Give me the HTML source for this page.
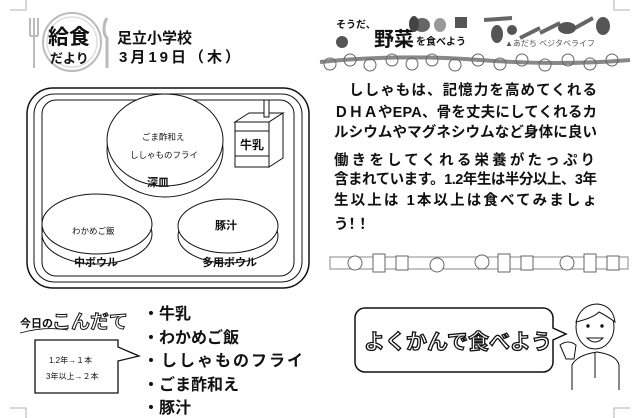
<!DOCTYPE html>
<html><head><meta charset="utf-8"><style>
html,body{margin:0;padding:0;background:#fff;}
svg{display:block;}
text{font-family:"Liberation Sans","Noto Sans CJK JP",sans-serif;fill:#111;}
</style></head><body>
<svg width="640" height="418" viewBox="0 0 640 418" xmlns="http://www.w3.org/2000/svg">
<path d="M10 10H26V0" fill="none" stroke="#999" stroke-width="0.8"/>
<path d="M630 10H614V0" fill="none" stroke="#999" stroke-width="0.8"/>
<path d="M10 408H26V418" fill="none" stroke="#999" stroke-width="0.8"/>
<path d="M630 408H614V418" fill="none" stroke="#999" stroke-width="0.8"/>

<circle cx="72" cy="42" r="29" fill="none" stroke="#bbb" stroke-width="2"/>
<circle cx="72" cy="42" r="25" fill="none" stroke="#ddd" stroke-width="1.5"/>
<path d="M30 18v18M34 18v18M38 18v18M30 36h8M34 36v32" stroke="#bbb" stroke-width="2" fill="none"/>
<path d="M107 18c-4 6-4 16 0 20v30" stroke="#bbb" stroke-width="3" fill="none"/>
<text x="48" y="44" font-size="21" font-weight="bold">給食</text>
<text x="50" y="63" font-size="13" font-weight="bold">だより</text>
<text x="117" y="43" font-size="15" font-weight="bold">足立小学校</text>
<text x="119" y="62" font-size="15" font-weight="bold" letter-spacing="3">3月19日（木）</text>

<rect x="27" y="88" width="282" height="200" rx="26" fill="none" stroke="#111" stroke-width="1.5"/>
<rect x="34" y="94" width="268" height="188" rx="20" fill="none" stroke="#111" stroke-width="1"/>
<rect x="42" y="100" width="252" height="176" rx="14" fill="none" stroke="#111" stroke-width="1"/>

<ellipse cx="165" cy="150" rx="58" ry="47" fill="#fff" stroke="#111" stroke-width="1"/>
<ellipse cx="165" cy="140" rx="58" ry="46" fill="#fff" stroke="#111" stroke-width="1"/>
<text x="142" y="140" font-size="8.5">ごま酢和え</text>
<text x="130" y="158" font-size="8.5">ししゃものフライ</text>
<text x="147" y="186" font-size="11" font-weight="bold">深皿</text>

<path d="M235 122l14-9h34l-14 9z" fill="#fff" stroke="#111"/>
<path d="M269 122l14-9v45l-14 9z" fill="#fff" stroke="#111"/>
<rect x="235" y="122" width="34" height="45" fill="#fff" stroke="#111"/>
<rect x="264" y="100" width="5" height="17" fill="#fff" stroke="#111"/>
<line x1="235" y1="131" x2="269" y2="131" stroke="#111"/>
<line x1="235" y1="156" x2="269" y2="156" stroke="#111"/>
<text x="240" y="149" font-size="12" font-weight="bold">牛乳</text>

<ellipse cx="97" cy="234" rx="55" ry="30" fill="#fff" stroke="#111"/>
<ellipse cx="97" cy="224" rx="55" ry="30" fill="#fff" stroke="#111"/>
<text x="72" y="234" font-size="8.5">わかめご飯</text>
<text x="74" y="266" font-size="11" font-weight="bold">中ボウル</text>

<ellipse cx="228" cy="236" rx="50" ry="27" fill="#fff" stroke="#111"/>
<ellipse cx="228" cy="226" rx="50" ry="27" fill="#fff" stroke="#111"/>
<text x="215" y="229" font-size="11" font-weight="bold">豚汁</text>
<text x="202" y="266" font-size="11" font-weight="bold">多用ボウル</text>

<text x="336" y="28" font-size="10" font-weight="bold">そうだ、</text>
<text x="374" y="46" font-size="20" font-weight="bold">野菜</text>
<text x="416" y="45" font-size="10" font-weight="bold">を食べよう</text>
<circle cx="342" cy="42" r="6" fill="#555"/>
<ellipse cx="422" cy="25" rx="8" ry="7" fill="#666"/>
<ellipse cx="440" cy="25" rx="6" ry="7" fill="#999"/>
<rect x="455" y="17" width="12" height="11" fill="#555"/>
<ellipse cx="414" cy="24" rx="5" ry="8" fill="#444"/>
<path d="M484 20l28-2M520 38l20-10M540 33l20-10M575 28l18-10" stroke="#666" stroke-width="4"/>
<ellipse cx="497" cy="34" rx="6" ry="9" fill="#555"/>
<circle cx="512" cy="30" r="5" fill="#555"/>
<ellipse cx="567" cy="28" rx="9" ry="6" fill="#555"/>
<ellipse cx="603" cy="26" rx="7" ry="9" fill="#555"/>
<text x="505" y="46" font-size="8" style="fill:#555">▲あだち ベジタベライフ</text>
<path d="M320 62 Q400 54 480 60 T630 60" stroke="#888" stroke-width="4" fill="none"/>
<g fill="none" stroke="#666" stroke-width="1">
<circle cx="330" cy="64" r="6"/><circle cx="350" cy="60" r="6"/><circle cx="370" cy="65" r="6"/><circle cx="392" cy="60" r="6"/><circle cx="412" cy="64" r="6"/><circle cx="432" cy="60" r="6"/><circle cx="455" cy="65" r="6"/><circle cx="478" cy="60" r="6"/><circle cx="500" cy="64" r="6"/><circle cx="522" cy="60" r="6"/><circle cx="545" cy="65" r="6"/><circle cx="568" cy="60" r="6"/><circle cx="590" cy="64" r="6"/><circle cx="612" cy="60" r="6"/>
</g>

<g font-size="14.5" font-weight="bold">
<text x="349" y="95" textLength="248" lengthAdjust="spacing">ししゃもは、記憶力を高めてくれる</text>
<text x="334" y="117" textLength="263" lengthAdjust="spacing">ＤＨＡやEPA、骨を丈夫にしてくれるカ</text>
<text x="334" y="137" textLength="263" lengthAdjust="spacing">ルシウムやマグネシウムなど身体に良い</text>
<text x="334" y="165" textLength="261" lengthAdjust="spacing">働きをしてくれる栄養がたっぷり</text>
<text x="334" y="184" textLength="263" lengthAdjust="spacing">含まれています。1.2年生は半分以上、3年</text>
<text x="334" y="205" textLength="263" lengthAdjust="spacing">生以上は 1本以上は食べてみましょ</text>
<text x="334" y="229" textLength="36" lengthAdjust="spacing">う！！</text>
</g>

<rect x="330" y="257" width="298" height="12" fill="none" stroke="#888"/>
<g fill="#fff" stroke="#666">
<circle cx="355" cy="263" r="7"/><rect x="373" y="254" width="12" height="18"/><rect x="396" y="256" width="12" height="14"/><circle cx="437" cy="265" r="7"/><circle cx="482" cy="262" r="7"/><rect x="498" y="254" width="12" height="18"/><rect x="521" y="256" width="12" height="14"/><circle cx="567" cy="263" r="7"/><rect x="584" y="254" width="12" height="18"/><rect x="607" y="256" width="12" height="14"/>
</g>

<text x="20" y="327" font-size="11" font-weight="bold">今日の</text>
<text x="52" y="328" font-size="19" font-weight="bold" style="fill:#fff;stroke:#111;stroke-width:1">こんだて</text>
<path d="M20 333 Q45 326 68 330" stroke="#111" fill="none" stroke-width="0.8"/>
<g font-size="16" font-weight="bold">
<text x="143" y="319">・牛乳</text>
<text x="143" y="343">・わかめご飯</text>
<text x="143" y="366" letter-spacing="2">・ししゃものフライ</text>
<text x="143" y="390">・ごま酢和え</text>
<text x="143" y="413">・豚汁</text>
</g>
<path d="M35 340H118V347L139 356L118 361V393H35Z" fill="#fff" stroke="#111" stroke-width="1.3"/>
<text x="49" y="363" font-size="8">1.2年→１本</text>
<text x="46" y="379" font-size="8">3年以上→２本</text>

<path d="M365 308H543a10 10 0 0 1 10 10V328L566 334L553 340V362a10 10 0 0 1-10 10H365a10 10 0 0 1-10-10V318a10 10 0 0 1 10-10Z" fill="#fff" stroke="#111" stroke-width="1.5"/>
<text x="364" y="349" font-size="21" font-weight="bold" style="fill:#fff;stroke:#111;stroke-width:1.3">よくかんで食べよう</text>

<g fill="#fff" stroke="#111" stroke-width="1">
<path d="M572 390V365q5-10 25-13q20 3 22 13V390"/>
<ellipse cx="595" cy="327" rx="19" ry="22"/>
<path d="M576 322q5-18 22-18q15 2 17 18q-8-6-16-10q-6 6-23 10z"/>
<path d="M560 345q8-6 16 0l-2 14h-8z"/>
<path d="M587 338q8 8 16 0z"/>
<circle cx="588" cy="326" r="1.2" fill="#111"/><circle cx="602" cy="326" r="1.2" fill="#111"/>
<line x1="595" y1="352" x2="595" y2="378"/>
</g>
</svg>
</body></html>
